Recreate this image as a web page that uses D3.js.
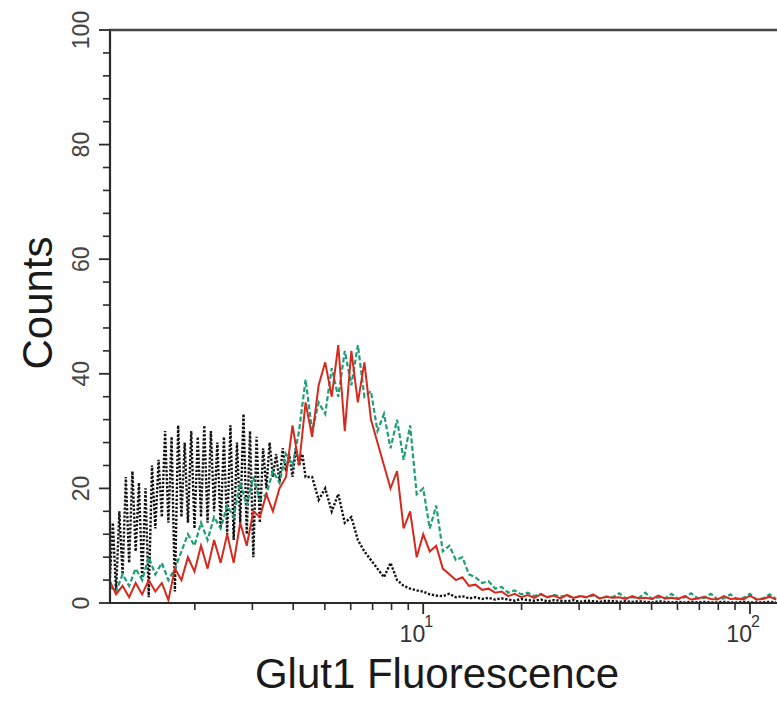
<!DOCTYPE html>
<html>
<head>
<meta charset="utf-8">
<script src="https://cdn.jsdelivr.net/npm/d3@7"></script>
<style>
  html, body { margin: 0; padding: 0; background: #fff; }
  svg { display: block; }
  text { font-family: "Liberation Sans", Arial, sans-serif; }
</style>
</head>
<body>
<script>
// ---------- DATA ----------
// log-spaced channel centres (fluorescence units)
const channels = [
  1.096,1.148,1.202,1.259,1.318,1.380,1.445,1.514,1.585,1.660,1.738,1.820,1.905,1.995,2.089,2.188,
  2.291,2.399,2.512,2.630,2.754,2.884,3.020,3.162,3.311,3.467,3.631,3.802,3.981,4.169,4.365,4.571,
  4.786,5.012,5.248,5.495,5.754,6.026,6.310,6.607,6.918,7.244,7.586,7.943,8.318,8.710,9.120,9.550,
  10.00,10.47,10.96,11.48,12.02,12.59,13.18,13.80,14.45,15.14,15.85,16.60,17.38,18.20,19.05,19.95,
  20.89,21.88,22.91,23.99,25.12,26.30,27.54,28.84,30.20,31.62,33.11,34.67,36.31,38.02,39.81,41.69,
  43.65,45.71,47.86,50.12,52.48,54.95,57.54,60.26,63.10,66.07,69.18,72.44,75.86,79.43,83.18,87.10,
  91.20,95.50,100.0,104.7,109.6,114.8,120.2
];
// finer channels used by the control histogram at the low end
const fineLowChannels = [
  1.096,1.122,1.148,1.175,1.202,1.230,1.259,1.288,1.318,1.349,1.380,1.413,1.445,1.479,1.514,1.549,
  1.585,1.622,1.660,1.698,1.738,1.778,1.820,1.862,1.905,1.950,1.995,2.042,2.089,2.138,2.188,2.239,
  2.291,2.344,2.399,2.455,2.512,2.570,2.630,2.692,2.754,2.818,2.884,2.951,3.020,3.090,3.162,3.236,
  3.311,3.388,3.467,3.548,3.631,3.715,3.802,3.890,3.981,4.074,4.169,4.266,4.365
];

const controlCounts = [
  // fine part (61)
  3,14,2,16,5,22,7,23,9,21,
  4,20,1,24,13,25,15,30,14,29,
  2,31,15,28,14,30,13,29,15,31,
  14,30,16,28,13,29,12,31,11,28,
  14,33,12,30,8,29,14,27,20,28,
  22,26,21,27,23,26,22,27,24,26,
  22,
  // regular part (72)
  22,18,20,16,19,14,15,11,9,
  7.5,6,4.5,7,4,3,2.5,2.2,2,1.5,
  1.3,1.2,1.6,1.0,1.2,0.8,1.0,0.7,0.9,0.6,0.8,
  0.6,0.4,0.7,0.5,0.4,0.6,0.3,0.5,0.4,0.3,
  0.5,0.2,0.4,0.3,0.2,0.4,0.3,0.2,0.3,0.2,
  0.3,0.2,0.1,0.3,0.2,0.1,0.2,0.1,0.2,0.1,
  0.2,0.1,0.1,0.2,0.1,0.1,0.2,0.1,0.1,0.1,
  0.2,0.1
];

const greenCounts = [
  3,2,5,3,6,4,8,5,7,4,
  6,9,12,10,14,11,15,13,17,15,
  21,17,22,18,19,23,21,26,24,30,
  39,30,35,33,41,36,44,38,45,36,
  37,30,33,27,32,25,31,19,20,13,
  17,9,10,7.5,8,5,4.5,3.5,3.8,2.5,
  2.8,1.8,2.2,1.5,1.8,1.2,
  1.6,1.0,1.4,1.1,1.3,0.9,1.2,1.0,1.3,0.8,
  1.1,1.0,1.7,0.8,1.0,0.9,1.8,0.7,1.0,0.8,
  1.6,0.7,1.0,1.7,0.8,0.9,1.6,0.7,0.8,1.5,
  0.7,0.9,1.6,0.6,0.8,1.5,0.7
];

const redCounts = [
  4,1.5,3,1,3.5,1.5,4,2,3.5,0.5,
  6,4,8,5.5,10,6,11,7,12,7,
  14,10,16,15,19,16,20,22,31,24,
  35,29,38,42,36,45,30,44,35,42,
  32,28,24,20,23,13,16,8,12,9,
  10,6,5,4,4.5,3,3.2,2.3,2.5,1.8,2,
  1.2,1.6,1.0,1.4,0.9,1.5,1.0,1.3,0.8,1.4,
  0.9,1.2,1.0,1.5,0.8,1.1,0.9,1.0,0.7,1.2,
  0.8,0.9,0.7,1.3,0.8,0.9,0.7,1.2,0.6,0.8,
  1.1,0.7,0.6,1.2,0.7,0.8,0.6,1.3,0.6,0.7,
  1.1,0.6
];

const yMajorTicks = [0, 20, 40, 60, 80, 100];
const yMinorTicks = [4,8,12,16,24,28,32,36,44,48,52,56,64,68,72,76,84,88,92,96];
const xMajorTicks = [10, 100];
const xMajorExponents = ["1", "2"];
const xMinorTicks = [2,3,4,5,6,7,8,9,20,30,40,50,60,70,80,90];
const xTitle = "Glut1 Fluorescence";
const yTitle = "Counts";

const controlChannels = fineLowChannels.concat(channels.slice(31));

// ---------- LAYOUT ----------
const W = 777, H = 719;
const mLeft = 110, mTop = 30, mRight = 777, mBottom = 603;

const svg = d3.select("body").append("svg").attr("width", W).attr("height", H);

const x = d3.scaleLog().domain([1.1, 121]).range([mLeft, mRight]);
const y = d3.scaleLinear().domain([0, 100]).range([mBottom, mTop]);

svg.append("defs").append("clipPath").attr("id", "plotclip")
  .append("rect").attr("x", mLeft).attr("y", mTop - 2).attr("width", mRight - mLeft + 5).attr("height", mBottom - mTop + 2);

const plot = svg.append("g").attr("clip-path", "url(#plotclip)");

const line = (xs, vals) => d3.line()
  .x((d, i) => x(xs[i]))
  .y(d => y(d))(vals);

plot.append("path").attr("d", line(controlChannels, controlCounts))
  .attr("fill", "none").attr("stroke", "#141414").attr("stroke-width", 2.4)
  .attr("stroke-dasharray", "2.3,1.7");

plot.append("path").attr("d", line(channels, greenCounts))
  .attr("fill", "none").attr("stroke", "#1f9c78").attr("stroke-width", 2.2)
  .attr("stroke-dasharray", "5,2.5");

plot.append("path").attr("d", line(channels, redCounts))
  .attr("fill", "none").attr("stroke", "#d62a1e").attr("stroke-width", 2);

// ---------- AXES ----------
const axisColor = "#2a2a2a";
svg.append("line").attr("x1", mLeft).attr("x2", mLeft).attr("y1", mTop - 1).attr("y2", mBottom + 1)
  .attr("stroke", axisColor).attr("stroke-width", 2.2);
svg.append("line").attr("x1", mLeft - 1).attr("x2", W).attr("y1", mTop).attr("y2", mTop)
  .attr("stroke", "#444").attr("stroke-width", 2.4);
svg.append("line").attr("x1", mLeft - 1).attr("x2", W).attr("y1", mBottom).attr("y2", mBottom)
  .attr("stroke", axisColor).attr("stroke-width", 2.2);

svg.selectAll(".ymaj").data(yMajorTicks).enter().append("line")
  .attr("x1", mLeft - 11).attr("x2", mLeft).attr("y1", d => y(d)).attr("y2", d => y(d))
  .attr("stroke", axisColor).attr("stroke-width", 1.8);
svg.selectAll(".ymin").data(yMinorTicks).enter().append("line")
  .attr("x1", mLeft - 7).attr("x2", mLeft).attr("y1", d => y(d)).attr("y2", d => y(d))
  .attr("stroke", axisColor).attr("stroke-width", 1.6);
svg.selectAll(".ylab").data(yMajorTicks).enter().append("text")
  .attr("transform", d => `translate(89,${y(d)}) rotate(-90)`)
  .attr("text-anchor", "middle")
  .attr("font-size", 23).attr("fill", "#444")
  .text(d => d);

svg.selectAll(".xmaj").data(xMajorTicks).enter().append("line")
  .attr("x1", d => x(d)).attr("x2", d => x(d)).attr("y1", mBottom).attr("y2", mBottom + 11)
  .attr("stroke", axisColor).attr("stroke-width", 1.8);
svg.selectAll(".xmin").data(xMinorTicks).enter().append("line")
  .attr("x1", d => x(d)).attr("x2", d => x(d)).attr("y1", mBottom).attr("y2", mBottom + 7)
  .attr("stroke", axisColor).attr("stroke-width", 1.6);
const xl = svg.selectAll(".xlab").data(xMajorTicks).enter().append("g")
  .attr("transform", d => `translate(${x(d)},0)`);
xl.append("text").attr("x", 2).attr("y", 642).attr("text-anchor", "end")
  .attr("font-size", 23).attr("fill", "#333").text("10");
xl.append("text").attr("x", 1).attr("y", 627).attr("text-anchor", "start")
  .attr("font-size", 16).attr("fill", "#333").text((d, i) => xMajorExponents[i]);

svg.append("text").attr("x", 437).attr("y", 688).attr("text-anchor", "middle")
  .attr("font-size", 42).attr("fill", "#1a1a1a").text(xTitle);
svg.append("text").attr("transform", "translate(52,303) rotate(-90)")
  .attr("text-anchor", "middle").attr("font-size", 42).attr("fill", "#1a1a1a").text(yTitle);
</script>
</body>
</html>
